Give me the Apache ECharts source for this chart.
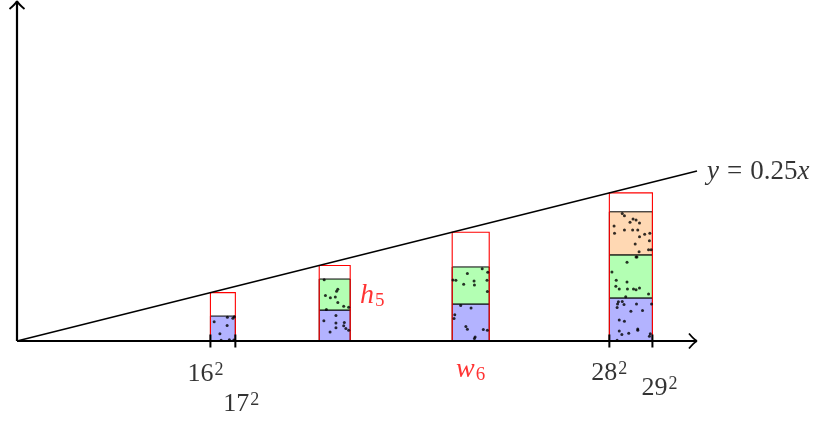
<!DOCTYPE html>
<html>
<head>
<meta charset="utf-8">
<script src="https://cdn.jsdelivr.net/npm/echarts@6/dist/echarts.min.js"></script>
<style>
  html, body { margin: 0; padding: 0; background: #fff; }
  #main { width: 832px; height: 421px; }
</style>
</head>
<body>
<div id="main"></div>
<script>
// bars sit between consecutive squares n^2 .. (n+1)^2
const barLeft = [256, 400, 576, 784];
const barRight = [289, 441, 625, 841];
const cellCount = [1, 2, 2, 3];
const boxTop = [64, 100, 144, 196];          // 0.25 * left edge
const cellColors = ['#b3b3ff', '#b3ffb3', '#ffd8b3'];
const tickValues = [256, 289, 784, 841];
const lineX = [0, 900];
const lineY = [0, 225];
const axisEnds = [[900, 0], [0, 450]];

// dots inside every cell, as fractions of the cell (u across, v up)
const cellDots = [
  // bar 1, blue
  [[0.15, 0.77], [0.68, 0.95], [0.9, 0.91], [0.96, 0.97], [0.67, 0.62], [0.38, 0.29], [0.43, 0.03], [0.76, 0.05], [0.94, 0.04]],
  // bar 2, blue
  [[0.54, 0.82], [0.15, 0.65], [0.54, 0.58], [0.81, 0.6], [0.54, 0.43], [0.79, 0.49], [0.86, 0.4], [0.95, 0.35], [0.35, 0.29]],
  // bar 2, green
  [[0.16, 0.98], [0.2, 0.47], [0.36, 0.4], [0.52, 0.42], [0.56, 0.61], [0.6, 0.67], [0.6, 0.24], [0.79, 0.12], [0.95, 0.09], [0.23, 0.02]],
  // bar 3, blue
  [[0.23, 0.96], [0.51, 0.89], [0.07, 0.71], [0.05, 0.61], [0.37, 0.39], [0.41, 0.32], [0.84, 0.31], [0.95, 0.29], [0.62, 0.11], [0.6, 0.07]],
  // bar 3, green
  [[0.41, 0.82], [0.81, 0.95], [0.96, 0.86], [0.02, 0.65], [0.1, 0.64], [0.31, 0.53], [0.59, 0.62], [0.6, 0.51], [0.94, 0.64], [0.95, 0.34]],
  // bar 4, blue
  [[0.21, 0.91], [0.3, 0.92], [0.19, 0.86], [0.34, 0.85], [0.63, 0.86], [0.98, 0.86], [0.18, 0.78], [0.5, 0.69], [0.77, 0.71], [0.23, 0.49],
   [0.35, 0.46], [0.66, 0.28], [0.66, 0.25], [0.23, 0.23], [0.29, 0.15], [0.45, 0.18], [0.95, 0.17], [0.93, 0.11], [0.18, 0.02]],
  // bar 4, green
  [[0.62, 0.95], [0.64, 0.95], [0.41, 0.83], [0.06, 0.6], [0.16, 0.41], [0.41, 0.37], [0.15, 0.27], [0.23, 0.21], [0.42, 0.21], [0.56, 0.21],
   [0.62, 0.19], [0.7, 0.23], [0.91, 0.09], [0.38, 0.03]],
  // bar 4, orange
  [[0.3, 0.96], [0.35, 0.91], [0.11, 0.67], [0.35, 0.58], [0.48, 0.76], [0.55, 0.83], [0.62, 0.81], [0.7, 0.74], [0.54, 0.58], [0.66, 0.58],
   [0.12, 0.5], [0.7, 0.42], [0.82, 0.48], [0.94, 0.5], [0.6, 0.25], [0.93, 0.33], [0.69, 0.07], [0.91, 0.12], [0.97, 0.12]]
];

const serif = "'Liberation Serif', 'DejaVu Serif', serif";

// build cells and dots from the arrays
let cells = [];
let dots = [];
for (let i = 0; i < barLeft.length; i++) {
  const side = barRight[i] - barLeft[i];
  for (let k = 0; k < cellCount[i]; k++) {
    const bottom = k * side;
    cells.push([barLeft[i], barRight[i], bottom, bottom + side, k]);
    cellDots[cells.length - 1].forEach(d => {
      dots.push([barLeft[i] + d[0] * side, bottom + d[1] * side]);
    });
  }
}
let boxes = barLeft.map((l, i) => [l, barRight[i], boxTop[i]]);

const chart = echarts.init(document.getElementById('main'));
chart.setOption({
  animation: false,
  grid: { left: 17, top: 1, width: 680, height: 340 },
  xAxis: { type: 'value', min: 0, max: 900, show: false },
  yAxis: { type: 'value', min: 0, max: 450, show: false },
  series: [
    {
      type: 'custom',
      z: 1,
      data: cells,
      renderItem: function (params, api) {
        const p0 = api.coord([api.value(0), api.value(3)]);
        const p1 = api.coord([api.value(1), api.value(2)]);
        return {
          type: 'rect',
          shape: { x: p0[0], y: p0[1], width: p1[0] - p0[0], height: p1[1] - p0[1] },
          style: { fill: cellColors[api.value(4)], stroke: '#000', lineWidth: 1 }
        };
      }
    },
    {
      type: 'custom',
      z: 2,
      data: boxes,
      renderItem: function (params, api) {
        const p0 = api.coord([api.value(0), api.value(2)]);
        const p1 = api.coord([api.value(1), 0]);
        return {
          type: 'rect',
          shape: { x: p0[0], y: p0[1], width: p1[0] - p0[0], height: p1[1] - p0[1] },
          style: { fill: 'none', stroke: '#ff0000', lineWidth: 1.1 }
        };
      }
    },
    {
      type: 'scatter',
      z: 3,
      data: dots,
      symbol: 'circle',
      symbolSize: 3,
      itemStyle: { color: '#000' }
    },
    {
      type: 'line',
      z: 3,
      data: lineX.map((x, i) => [x, lineY[i]]),
      symbol: 'none',
      lineStyle: { color: '#000', width: 1.7 },
      label: { show: false }
    },
    {
      // axes with open arrow heads
      type: 'custom',
      z: 4,
      data: axisEnds,
      renderItem: function (params, api) {
        const o = api.coord([0, 0]);
        const t = api.coord([api.value(0), api.value(1)]);
        const dx = t[0] - o[0], dy = t[1] - o[1];
        const len = Math.sqrt(dx * dx + dy * dy);
        const ux = dx / len, uy = dy / len;   // forward
        const nx = -uy, ny = ux;              // normal
        const back = 8, wide = 7.5;
        const w1 = [t[0] - ux * back + nx * wide, t[1] - uy * back + ny * wide];
        const w2 = [t[0] - ux * back - nx * wide, t[1] - uy * back - ny * wide];
        const style = { stroke: '#000', lineWidth: 1.8, fill: 'none' };
        return {
          type: 'group',
          children: [
            { type: 'line', shape: { x1: o[0], y1: o[1], x2: t[0] - ux * 1, y2: t[1] - uy * 1 }, style: { stroke: '#000', lineWidth: 2.2 } },
            { type: 'bezierCurve', shape: { x1: w1[0], y1: w1[1], x2: t[0], y2: t[1],
                cpx1: t[0] - ux * 3 + nx * 1.5, cpy1: t[1] - uy * 3 + ny * 1.5 }, style: style },
            { type: 'bezierCurve', shape: { x1: w2[0], y1: w2[1], x2: t[0], y2: t[1],
                cpx1: t[0] - ux * 3 - nx * 1.5, cpy1: t[1] - uy * 3 - ny * 1.5 }, style: style }
          ]
        };
      }
    },
    {
      // tick marks
      type: 'custom',
      z: 4,
      data: tickValues,
      renderItem: function (params, api) {
        const p = api.coord([api.value(0), 0]);
        return {
          type: 'line',
          shape: { x1: p[0], y1: p[1] - 6.5, x2: p[0], y2: p[1] + 6.5 },
          style: { stroke: '#000', lineWidth: 2 }
        };
      }
    },
    {
      // text labels
      type: 'scatter',
      z: 5,
      symbolSize: 0,
      silent: true,
      label: {
        show: true,
        position: 'inside',
        align: 'center',
        verticalAlign: 'middle',
        fontFamily: serif,
        color: '#000',
        formatter: p => p.data.text,
        rich: {
          n: { fontFamily: serif, fontSize: 26, lineHeight: 26, color: '#000' },
          s: { fontFamily: serif, fontSize: 18, lineHeight: 18, color: '#000', verticalAlign: 'top', padding: [0, 0, 8, 1] },
          r: { fontFamily: serif, fontStyle: 'italic', fontSize: 28, lineHeight: 28, color: '#ff0000' },
          rs: { fontFamily: serif, fontSize: 19, lineHeight: 19, color: '#ff0000', padding: [10, 0, 0, 1] },
          i: { fontFamily: serif, fontStyle: 'italic', fontSize: 27, lineHeight: 27, color: '#000' },
          e: { fontFamily: serif, fontSize: 27, lineHeight: 27, color: '#000', padding: [0, 8, 0, 8] },
          m: { fontFamily: serif, fontSize: 27, lineHeight: 27, color: '#000' }
        }
      },
      data: [
        { value: [tickValues[0], 0], text: '{n|16}{s|2}', label: { offset: [-5, 33] } },
        { value: [tickValues[1], 0], text: '{n|17}{s|2}', label: { offset: [6, 63] } },
        { value: [tickValues[2], 0], text: '{n|28}{s|2}', label: { offset: [0, 32] } },
        { value: [tickValues[3], 0], text: '{n|29}{s|2}', label: { offset: [7, 47] } },
        { value: [(barLeft[2] + barRight[2]) / 2, 0], text: '{r|w}{rs|6}', label: { offset: [0, 29] } },
        { value: [barRight[1], (barRight[1] - barLeft[1]) * 1.5], text: '{r|h}{rs|5}', label: { offset: [22, 1] } },
        { value: [lineX[1], lineY[1]], text: '{i|y}{e|=}{m|0.25}{i|x}', label: { align: 'left', offset: [10, 1] } }
      ]
    }
  ]
});
</script>
</body>
</html>
